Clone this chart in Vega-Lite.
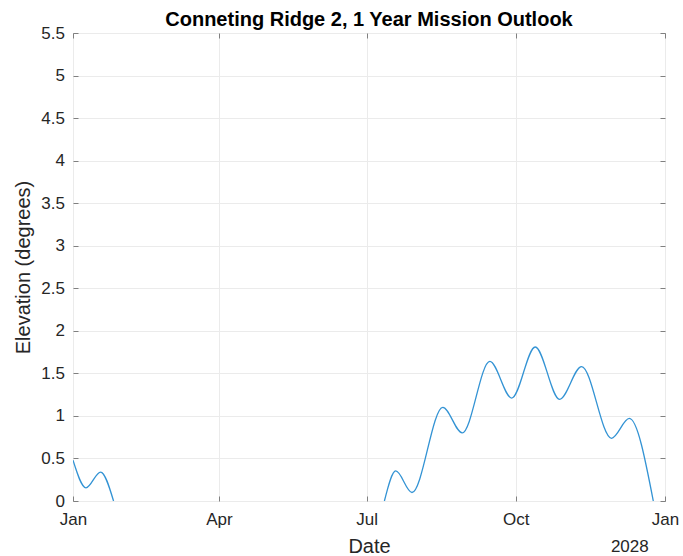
{
  "$schema": "https://vega.github.io/schema/vega-lite/v6.json",
  "width": 592,
  "height": 468,
  "autosize": {"type": "none"},
  "padding": {"left": 73, "top": 33, "right": 18, "bottom": 55},
  "background": "white",
  "title": {
    "text": "Conneting Ridge 2, 1 Year Mission Outlook",
    "font": "Liberation Sans",
    "fontSize": 20,
    "fontWeight": "bold",
    "color": "#000000",
    "anchor": "middle",
    "frame": "group",
    "offset": -6
  },
  "config": {
    "view": {"stroke": "#808080", "strokeWidth": 1},
    "axis": {
      "labelFont": "Liberation Sans",
      "labelFontSize": 17,
      "labelColor": "#262626",
      "titleFont": "Liberation Sans",
      "titleFontSize": 20,
      "titleFontWeight": "normal",
      "titleColor": "#262626",
      "tickColor": "#808080",
      "tickSize": -5,
      "domain": false,
      "gridColor": "#ebebeb",
      "gridWidth": 1,
      "labelFlush": false,
      "labelOverlap": false,
      "labelBound": false
    }
  },
  "datasets": {
    "elevation": [
      {"seg": "a", "date": "2027-01-01", "elev": 0.48},
      {"seg": "a", "date": "2027-01-09", "elev": 0.155},
      {"seg": "a", "date": "2027-01-18", "elev": 0.34},
      {"seg": "a", "date": "2027-01-26", "elev": 0.0},
      {"seg": "b", "date": "2027-07-12", "elev": 0.0},
      {"seg": "b", "date": "2027-07-19", "elev": 0.353},
      {"seg": "b", "date": "2027-07-29", "elev": 0.10},
      {"seg": "b", "date": "2027-08-17", "elev": 1.10},
      {"seg": "b", "date": "2027-08-29", "elev": 0.80},
      {"seg": "b", "date": "2027-09-15", "elev": 1.64},
      {"seg": "b", "date": "2027-09-28T12:00:00Z", "elev": 1.21},
      {"seg": "b", "date": "2027-10-13", "elev": 1.81},
      {"seg": "b", "date": "2027-10-28", "elev": 1.195},
      {"seg": "b", "date": "2027-11-10T14:00:00Z", "elev": 1.58},
      {"seg": "b", "date": "2027-11-29", "elev": 0.737},
      {"seg": "b", "date": "2027-12-10", "elev": 0.97},
      {"seg": "b", "date": "2027-12-24T19:00:00Z", "elev": 0.0}
    ],
    "anchor": [{"tag": "frame"}]
  },
  "layer": [
    {
      "data": {"name": "elevation"},
      "mark": {
        "type": "line",
        "interpolate": "monotone",
        "color": "#3393d4",
        "strokeWidth": 1.3,
        "clip": true
      },
      "encoding": {
        "x": {
          "field": "date",
          "type": "temporal",
          "scale": {
            "type": "utc",
            "domain": [
              {"year": 2027, "month": 1, "date": 1, "utc": true},
              {"year": 2028, "month": 1, "date": 1, "utc": true}
            ]
          },
          "axis": {
            "orient": "bottom",
            "values": [
              {"year": 2027, "month": 1, "date": 1, "utc": true},
              {"year": 2027, "month": 4, "date": 1, "utc": true},
              {"year": 2027, "month": 7, "date": 1, "utc": true},
              {"year": 2027, "month": 10, "date": 1, "utc": true},
              {"year": 2028, "month": 1, "date": 1, "utc": true}
            ],
            "labelExpr": "utcFormat(datum.value, '%b')",
            "grid": true,
            "labelPadding": 15.5,
            "title": "Date",
            "titlePadding": 9
          }
        },
        "y": {
          "field": "elev",
          "type": "quantitative",
          "scale": {"domain": [0, 5.5], "nice": false, "zero": true},
          "axis": {
            "orient": "left",
            "values": [0, 0.5, 1, 1.5, 2, 2.5, 3, 3.5, 4, 4.5, 5, 5.5],
            "format": ".1~f",
            "grid": true,
            "labelPadding": 13.5,
            "title": "Elevation (degrees)",
            "titlePadding": 7
          }
        },
        "detail": {"field": "seg", "type": "nominal"}
      }
    },
    {
      "data": {"name": "anchor"},
      "mark": {"type": "rule", "opacity": 0},
      "encoding": {
        "x": {
          "datum": {"year": 2027, "month": 7, "date": 1, "utc": true},
          "type": "temporal",
          "axis": {
            "orient": "top",
            "values": [
              {"year": 2027, "month": 1, "date": 1, "utc": true},
              {"year": 2027, "month": 4, "date": 1, "utc": true},
              {"year": 2027, "month": 7, "date": 1, "utc": true},
              {"year": 2027, "month": 10, "date": 1, "utc": true},
              {"year": 2028, "month": 1, "date": 1, "utc": true}
            ],
            "labels": false,
            "grid": false,
            "title": null
          }
        }
      }
    },
    {
      "data": {"name": "anchor"},
      "mark": {"type": "rule", "opacity": 0},
      "encoding": {
        "y": {
          "datum": 1,
          "type": "quantitative",
          "axis": {
            "orient": "right",
            "values": [0, 0.5, 1, 1.5, 2, 2.5, 3, 3.5, 4, 4.5, 5, 5.5],
            "labels": false,
            "grid": false,
            "title": null
          }
        }
      }
    },
    {
      "data": {"name": "anchor"},
      "mark": {"type": "rule", "opacity": 0},
      "encoding": {
        "x": {
          "datum": {"year": 2027, "month": 12, "date": 10, "utc": true},
          "type": "temporal",
          "axis": {
            "orient": "bottom",
            "values": [{"year": 2027, "month": 12, "date": 10, "utc": true}],
            "labelExpr": "'2028'",
            "ticks": false,
            "grid": false,
            "labelPadding": 37,
            "title": null
          }
        }
      }
    }
  ],
  "resolve": {"axis": {"x": "independent", "y": "independent"}}
}
